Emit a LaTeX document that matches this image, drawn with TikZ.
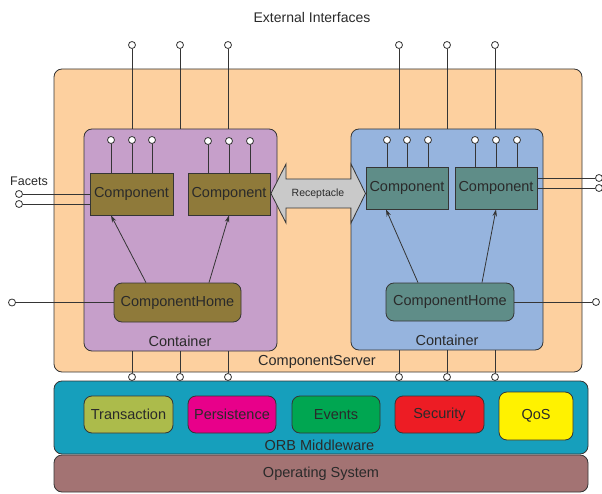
\documentclass[tikz,border=0pt]{standalone}
\usepackage{fontspec}
\setmainfont{Liberation Sans}
\usetikzlibrary{arrows.meta}
\definecolor{linec}{HTML}{353535}
\definecolor{txt}{HTML}{2A2A2A}
\definecolor{serverc}{HTML}{FDD09F}
\definecolor{contL}{HTML}{C69FCA}
\definecolor{contR}{HTML}{96B4DE}
\definecolor{compLc}{HTML}{8F7A3A}
\definecolor{compRc}{HTML}{5F8D88}
\definecolor{orbc}{HTML}{169FBC}
\definecolor{transc}{HTML}{ACBB4B}
\definecolor{persc}{HTML}{E8008A}
\definecolor{eventc}{HTML}{00A651}
\definecolor{secc}{HTML}{ED1C24}
\definecolor{qosc}{HTML}{FFF200}
\definecolor{osc}{HTML}{A37373}
\definecolor{recc}{HTML}{C9C9C9}
\tikzset{
  every node/.style={text=txt, font=\fontsize{14.5}{16}\selectfont},
  conn/.style={draw=linec, line width=0.8pt},
  boxstyle/.style={draw=linec, line width=0.8pt, rectangle, inner sep=0pt},
  rbox/.style={boxstyle, rounded corners=8pt},
  pincirc/.style={circle, draw=linec, fill=white, line width=0.8pt, minimum size=7pt, inner sep=0pt},
  lbl/.style={inner sep=0pt},
  homearrow/.style={conn, -{Stealth[length=7pt,width=4.5pt]}},
}
\begin{document}
\begin{tikzpicture}[x=1pt,y=-1pt]
\useasboundingbox (0,0) rectangle (602,494);
% ComponentServer
\node[rbox, fill=serverc, minimum width=528pt, minimum height=303pt] (server) at (318,220.5) {};
\node[lbl] (serverlbl) at (317,362) {ComponentServer};
% Containers
\node[rbox, fill=contL, minimum width=193pt, minimum height=222pt] (contl) at (180.5,240) {};
\node[rbox, fill=contR, minimum width=192pt, minimum height=221pt] (contr) at (447,239.5) {};
\node[lbl] (contllbl) at (180,341) {Container};
\node[lbl] (contrlbl) at (447,340) {Container};
% Title
\node[lbl, font=\fontsize{14}{16}\selectfont] (ext) at (312,17) {External Interfaces};
% Top external pins
\foreach \x/\n in {132/ta,180/tb,228/tc}{
  \node[pincirc] (\n) at (\x,45) {};
  \draw[conn] (\n) -- (\n |- contl.north);
}
\foreach \x/\n in {399/td,447/te,495/tf}{
  \node[pincirc] (\n) at (\x,45) {};
  \draw[conn] (\n) -- (\n |- contr.north);
}
% Bottom pins
\foreach \x/\n in {132/ba,180/bb,228/bc}{
  \node[pincirc] (\n) at (\x,377) {};
  \draw[conn] (\n) -- (\n |- contl.south);
}
\foreach \x/\n in {399/bd,447/be,495/bf}{
  \node[pincirc] (\n) at (\x,377) {};
  \draw[conn] (\n) -- (\n |- contr.south);
}
% Components
\node[boxstyle, fill=compLc, minimum width=83pt, minimum height=42pt] (cl1) at (131.5,194) {Component};
\node[boxstyle, fill=compLc, minimum width=82pt, minimum height=42pt] (cl2) at (229,194) {Component};
\node[boxstyle, fill=compRc, minimum width=82pt, minimum height=42pt] (cr1) at (407,188) {Component};
\node[boxstyle, fill=compRc, minimum width=82pt, minimum height=42pt] (cr2) at (496,188) {Component};
% Component pins
\foreach \x/\n in {111/pa,132/pb,152/pc}{
  \node[pincirc] (\n) at (\x,140) {};
  \draw[conn] (\n) -- (\n |- cl1.north);
}
\foreach \x/\n in {208/pd,229/pe,250/pf}{
  \node[pincirc] (\n) at (\x,141) {};
  \draw[conn] (\n) -- (\n |- cl2.north);
}
\foreach \x/\n in {387/pg,407/ph,428/pi}{
  \node[pincirc] (\n) at (\x,140) {};
  \draw[conn] (\n) -- (\n |- cr1.north);
}
\foreach \x/\n in {475/pj,496/pk,517/pl}{
  \node[pincirc] (\n) at (\x,140) {};
  \draw[conn] (\n) -- (\n |- cr2.north);
}
% Facets
\node[lbl, font=\fontsize{12.5}{14}\selectfont] (facets) at (29,181) {Facets};
\node[pincirc] (fa) at (19,194) {};
\node[pincirc] (fb) at (19,204) {};
\draw[conn] (fa) -- (fa -| cl1.west);
\draw[conn] (fb) -- (fb -| cl1.west);
\node[pincirc] (fc) at (599,178) {};
\node[pincirc] (fd) at (599,188) {};
\draw[conn] (fc -| cr2.east) -- (fc);
\draw[conn] (fd -| cr2.east) -- (fd);
% Receptacle double arrow
\draw[conn, fill=recc] (271,193.5) -- (286,164) -- (286,179) -- (351,179) -- (351,164) -- (365.5,193.5)
  -- (351,223) -- (351,208) -- (286,208) -- (286,223) -- cycle;
\node[lbl, font=\fontsize{10.5}{12}\selectfont] (recep) at (318,193.5) {Receptacle};
% Component homes
\node[rbox, fill=compLc, minimum width=127pt, minimum height=39pt] (hl) at (177.5,302.5) {ComponentHome};
\node[rbox, fill=compRc, minimum width=128pt, minimum height=38pt] (hr) at (450,302) {ComponentHome};
\node[pincirc] (hpl) at (12,302.5) {};
\node[pincirc] (hpr) at (596,302) {};
\draw[conn] (hpl) -- (hl.west);
\draw[conn] (hr.east) -- (hpr);
\draw[homearrow] ([xshift=-31.5pt]hl.north) -- ([xshift=-20.5pt]cl1.south);
\draw[homearrow] ([xshift=31.5pt]hl.north) -- (cl2.south);
\draw[homearrow] ([xshift=-32pt]hr.north) -- ([xshift=-21pt]cr1.south);
\draw[homearrow] ([xshift=32pt]hr.north) -- (cr2.south);
% ORB Middleware
\node[rbox, fill=orbc, minimum width=534pt, minimum height=73pt] (orb) at (321,417.5) {};
\node[lbl] (orblbl) at (319.5,445) {ORB Middleware};
\node[rbox, fill=transc, minimum width=89pt, minimum height=37pt] (trans) at (128.5,414.5) {Transaction};
\node[rbox, fill=persc, minimum width=88pt, minimum height=37pt] (pers) at (232,414.5) {Persistence};
\node[rbox, fill=eventc, minimum width=88pt, minimum height=37pt] (events) at (336,414.5) {Events};
\node[rbox, fill=secc, minimum width=89pt, minimum height=37pt] (sec) at (439.5,414.5) {Security};
\node[rbox, fill=qosc, minimum width=74pt, minimum height=48pt] (qos) at (536,416) {QoS};
% Operating System
\node[rbox, fill=osc, minimum width=534pt, minimum height=37pt] (os) at (321,473.5) {Operating System};
\end{tikzpicture}
\end{document}
